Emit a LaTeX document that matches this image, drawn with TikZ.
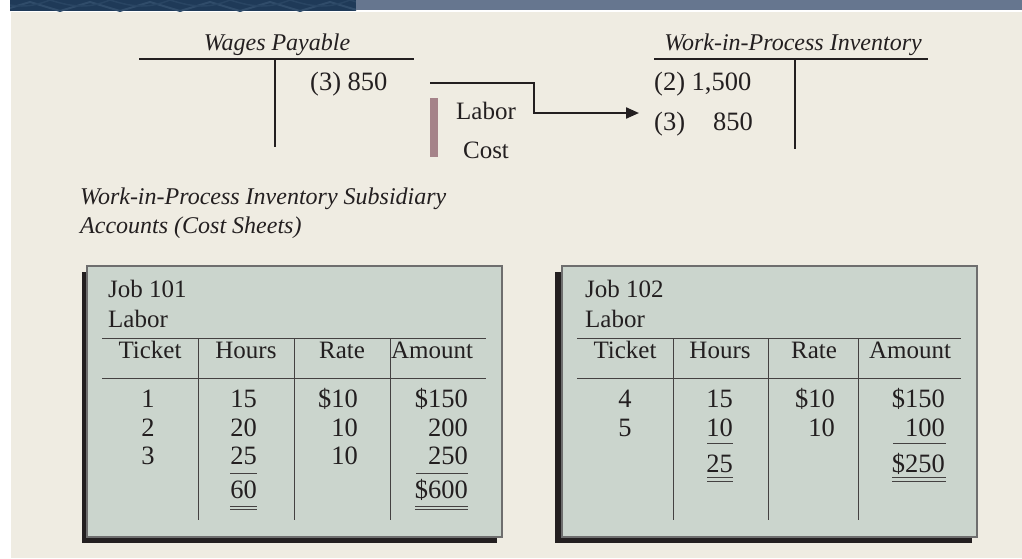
\documentclass[tikz,border=0pt]{standalone}
\usepackage{fontspec}
\setmainfont{Liberation Serif}
\usetikzlibrary{arrows.meta}
\definecolor{bg}{RGB}{239,236,226}
\definecolor{navy}{RGB}{31,58,88}
\definecolor{navylt}{RGB}{48,76,106}
\definecolor{slate}{RGB}{102,118,143}
\definecolor{ink}{RGB}{35,31,32}
\definecolor{boxfill}{RGB}{203,213,205}
\definecolor{boxedge}{RGB}{110,110,110}
\definecolor{mauve}{RGB}{165,131,137}
\tikzset{
  txt/.style={inner sep=0pt, text=ink, font=\fontsize{25}{28}\selectfont},
  num/.style={inner sep=0pt, text=ink, font=\fontsize{26.5}{30}\selectfont},
  ttl/.style={inner sep=0pt, text=ink, font=\fontsize{24}{28}\selectfont\itshape},
  tline/.style={draw=ink, line width=1.2pt},
  grid/.style={draw=ink!85, line width=1pt},
  flow/.style={draw=ink, line width=2.2pt, -{Triangle[length=13pt,width=11pt]}},
  shadowbox/.style={fill=ink},
  sheet/.style={fill=boxfill, draw=boxedge, line width=1.3pt},
}
\begin{document}
\begin{tikzpicture}[x=1pt,y=-1pt]
\useasboundingbox (0,0) rectangle (1022,558);
\fill[white] (0,0) rectangle (1022,558);
\fill[bg] (11,11.5) rectangle (1022,558);
% top bars
\fill[navy] (10,0) rectangle (356,11);
\begin{scope}
\clip (10,0) rectangle (356,11);
\foreach \s in {0,60,...,360} {
  \draw[navylt, line width=2pt] (\s,11) -- (\s+30,2) -- (\s+60,11);
  \draw[navylt!60!navy, line width=1.5pt] (\s-10,0) .. controls (\s+15,8) and (\s+30,8) .. (\s+50,0);
}
\end{scope}
\fill[slate] (356,0) rectangle (1022,9.5);

% Wages Payable T-account
\node[ttl, anchor=base] (wpt) at (277,50) {Wages Payable};
\draw[tline] (139,59) -- (414,59);
\draw[tline] (275,59) -- (275,147);
\node[num, anchor=base west] (w3) at (310,90) {(3) 850};

% WIP T-account
\node[ttl, anchor=base] (wipt) at (793,50) {Work-in-Process Inventory};
\draw[tline] (654,59) -- (928,59);
\draw[tline] (795,59) -- (795,149);
\node[num, anchor=base west] (wip2) at (654,90) {(2) 1,500};
\node[num, anchor=base west] (wip3) at (654,130) {(3)};
\node[num, anchor=base east] (wip3v) at (753,130) {850};

% Labor cost connector
\fill[mauve] (430,98) rectangle (438,157);
\node[txt, anchor=base] (lab) at (486,119) {Labor};
\node[txt, anchor=base] (cost) at (486,158) {Cost};
\coordinate (a0) at (430,83);
\coordinate (a2) at (534,113);
\draw[flow, shorten >=15pt] (a0) -| (a2) -- (a2 -| wip3.west);

% heading
\node[ttl, anchor=base west] (h1) at (80,204) {Work-in-Process Inventory Subsidiary};
\node[ttl, anchor=base west] (h2) at (80,233) {Accounts (Cost Sheets)};

% Job 101
\fill[shadowbox] (82,272) rectangle (497,543);
\draw[sheet] (87,266) rectangle (502,537);
\node[txt, anchor=base west] (j1) at (108,297) {Job 101};
\node[txt, anchor=base west] (j1l) at (108,327) {Labor};
\draw[grid] (102,338) -- (486,338);
\draw[grid] (102,378) -- (486,378);
\foreach \x in {198,294,390} \draw[grid] (\x,338) -- (\x,520);
\node[txt, anchor=base] (j1h1) at (150,358) {Ticket};
\node[txt, anchor=base] (j1h2) at (246,358) {Hours};
\node[txt, anchor=base] (j1h3) at (342,358) {Rate};
\node[txt, anchor=base] (j1h4) at (432,358) {Amount};
\node[num, anchor=base] (j1t1) at (148,407) {1};
\node[num, anchor=base] (j1t2) at (148,436) {2};
\node[num, anchor=base] (j1t3) at (148,464) {3};
\node[num, anchor=base east] (j1hr1) at (257,407) {15};
\node[num, anchor=base east] (j1hr2) at (257,436) {20};
\node[num, anchor=base east] (j1hr3) at (257,464) {25};
\node[num, anchor=base east] (j1hrt) at (257,498) {60};
\node[num, anchor=base east] (j1r1) at (358,407) {\$10};
\node[num, anchor=base east] (j1r2) at (358,436) {10};
\node[num, anchor=base east] (j1r3) at (358,464) {10};
\node[num, anchor=base east] (j1a1) at (468,407) {\$150};
\node[num, anchor=base east] (j1a2) at (468,436) {200};
\node[num, anchor=base east] (j1a3) at (468,464) {250};
\node[num, anchor=base east] (j1at) at (468,498) {\$600};
\draw[grid] (230,473) -- (257,473);
\draw[grid] (416,473) -- (468,473);
\draw[grid] (230,506) -- (257,506) (230,509.5) -- (257,509.5);
\draw[grid] (415,506) -- (468,506) (415,509.5) -- (468,509.5);

% Job 102
\fill[shadowbox] (555,272) rectangle (972,543);
\draw[sheet] (562,266) rectangle (977,537);
\node[txt, anchor=base west] (j2) at (585,297) {Job 102};
\node[txt, anchor=base west] (j2l) at (585,327) {Labor};
\draw[grid] (577,338) -- (961,338);
\draw[grid] (577,378) -- (961,378);
\foreach \x in {673,768,858} \draw[grid] (\x,338) -- (\x,520);
\node[txt, anchor=base] (j2h1) at (625,358) {Ticket};
\node[txt, anchor=base] (j2h2) at (720,358) {Hours};
\node[txt, anchor=base] (j2h3) at (814,358) {Rate};
\node[txt, anchor=base] (j2h4) at (910,358) {Amount};
\node[num, anchor=base] (j2t1) at (625,407) {4};
\node[num, anchor=base] (j2t2) at (625,436) {5};
\node[num, anchor=base east] (j2hr1) at (733,407) {15};
\node[num, anchor=base east] (j2hr2) at (733,436) {10};
\node[num, anchor=base east] (j2hrt) at (733,472) {25};
\node[num, anchor=base east] (j2r1) at (835,407) {\$10};
\node[num, anchor=base east] (j2r2) at (835,436) {10};
\node[num, anchor=base east] (j2a1) at (945,407) {\$150};
\node[num, anchor=base east] (j2a2) at (945,436) {100};
\node[num, anchor=base east] (j2at) at (945,472) {\$250};
\draw[grid] (707,443) -- (733,443);
\draw[grid] (893,443) -- (946,443);
\draw[grid] (707,477.5) -- (733,477.5) (707,481) -- (733,481);
\draw[grid] (892,477.5) -- (946,477.5) (892,481) -- (946,481);
\end{tikzpicture}
\end{document}
